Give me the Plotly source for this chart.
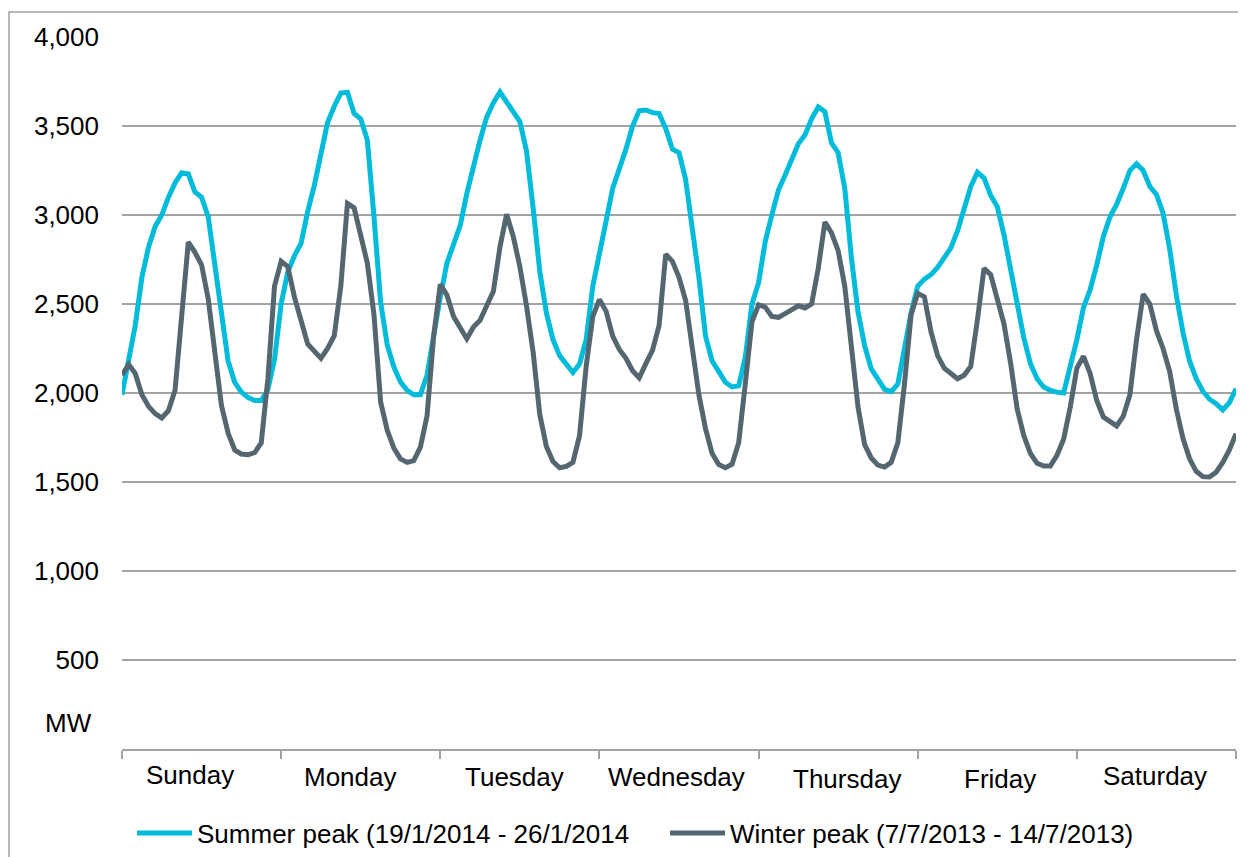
import plotly.graph_objects as go

# Hourly demand (MW), Sunday 00:00 -> next Sunday 00:00
hours = list(range(169))

summer = [
    # Sunday
    1990, 2180, 2380, 2650, 2820, 2935, 3000, 3100, 3180, 3237, 3230, 3129,
    3100, 2990, 2720, 2400, 2180, 2060, 2005, 1975, 1958, 1958, 2020, 2190,
    # Monday
    2500, 2680, 2770, 2840, 3020, 3165, 3340, 3520, 3610, 3685, 3690, 3570,
    3540, 3420, 2990, 2510, 2270, 2146, 2062, 2015, 1990, 1990, 2100, 2340,
    # Tuesday
    2540, 2730, 2830, 2940, 3120, 3280, 3420, 3550, 3630, 3691, 3640, 3580,
    3525, 3360, 3040, 2685, 2450, 2300, 2210, 2160, 2115, 2163, 2300, 2600,
    # Wednesday
    2800, 2965, 3150, 3255, 3370, 3500, 3585, 3590, 3575, 3570, 3485, 3370,
    3350, 3200, 2925, 2650, 2320, 2180, 2120, 2060, 2034, 2040, 2200, 2500,
    # Thursday
    2620, 2850, 3000, 3140, 3223, 3310, 3400, 3450, 3540, 3607, 3580, 3405,
    3350, 3150, 2760, 2455, 2265, 2135, 2075, 2020, 2008, 2050, 2250, 2450,
    # Friday
    2600, 2640, 2665, 2705, 2760, 2815, 2910, 3030, 3160, 3240, 3208, 3110,
    3047, 2890, 2700, 2480, 2310, 2165, 2080, 2034, 2015, 2005, 2000, 2150,
    # Saturday
    2300, 2480, 2580, 2720, 2880, 2990, 3060, 3150, 3250, 3288, 3250, 3160,
    3115, 3010, 2810, 2550, 2340, 2180, 2080, 2010, 1965, 1940, 1905, 1945,
    2024,
]

winter = [
    # Sunday
    2100, 2160, 2110, 1990, 1925, 1884, 1860, 1900, 2015, 2420, 2848, 2790,
    2720, 2530, 2210, 1930, 1775, 1680, 1657, 1653, 1665, 1720, 2080, 2600,
    # Monday
    2740, 2710, 2540, 2400, 2275, 2235, 2195, 2250, 2320, 2600, 3065, 3040,
    2890, 2730, 2440, 1950, 1790, 1690, 1630, 1610, 1620, 1696, 1870, 2320,
    # Tuesday
    2610, 2550, 2430, 2370, 2305, 2371, 2408, 2490, 2570, 2820, 3004, 2880,
    2710, 2490, 2230, 1880, 1700, 1615, 1580, 1588, 1610, 1760, 2150, 2430,
    # Wednesday
    2525, 2460, 2320, 2245, 2195, 2125, 2085, 2165, 2240, 2380, 2780, 2740,
    2650, 2520, 2260, 1990, 1800, 1660, 1598, 1580, 1600, 1720, 2052, 2400,
    # Thursday
    2495, 2483, 2430, 2425, 2446, 2470, 2490, 2478, 2500, 2700, 2960, 2900,
    2800, 2600, 2230, 1920, 1710, 1635, 1595, 1584, 1610, 1720, 2050, 2440,
    # Friday
    2560, 2540, 2345, 2210, 2140, 2110, 2080, 2100, 2150, 2410, 2700, 2665,
    2530, 2390, 2170, 1910, 1760, 1660, 1605, 1590, 1590, 1650, 1740, 1920,
    # Saturday
    2140, 2206, 2110, 1958, 1865, 1838, 1815, 1870, 1990, 2300, 2555, 2500,
    2350, 2250, 2120, 1910, 1745, 1630, 1560, 1530, 1528, 1555, 1610, 1680,
    1771,
]

days = ["Sunday", "Monday", "Tuesday", "Wednesday", "Thursday", "Friday", "Saturday"]
day_ticks = [0, 24, 48, 72, 96, 120, 144, 168]
y_ticks = [500, 1000, 1500, 2000, 2500, 3000, 3500, 4000]
y_ticktext = ["500", "1,000", "1,500", "2,000", "2,500", "3,000", "3,500", "4,000"]

series_names = ["Summer peak (19/1/2014 - 26/1/2014", "Winter peak (7/7/2013 - 14/7/2013)"]

CYAN = "#00BBD9"
DARK = "#546670"
GRID = "#A3A3A3"
FONT = "Liberation Sans, Arial, sans-serif"

fig = go.Figure()
fig.add_trace(go.Scatter(x=hours, y=summer, mode="lines", name=series_names[0],
                         line=dict(color=CYAN, width=5)))
fig.add_trace(go.Scatter(x=hours, y=winter, mode="lines", name=series_names[1],
                         line=dict(color=DARK, width=5)))

# day labels (slight per-label offsets as in the original)
label_dx = [-12, -10, -5, -3, 9, 3, -1]
label_dy = [2, 0, 0, 0, -2, -2, 1]
for i, d in enumerate(days):
    fig.add_annotation(x=12 + 24 * i, y=-0.0393, xref="x", yref="paper",
                       text=d, showarrow=False, xanchor="center", yanchor="middle",
                       xshift=label_dx[i], yshift=label_dy[i],
                       font=dict(size=26, color="#000000", family=FONT))

fig.add_annotation(x=-0.0476, y=0.0365, xref="paper", yref="paper", text="MW",
                   showarrow=False, xanchor="center", yanchor="middle",
                   font=dict(size=26, color="#000000", family=FONT))

# outer frame
fig.add_shape(type="rect", xref="paper", yref="paper",
              x0=-0.1014, x1=1.2, y0=-0.3, y1=1.0351,
              line=dict(color="#A0A0A0", width=1.5), fillcolor="rgba(0,0,0,0)", layer="below")

fig.update_layout(
    width=1238, height=849,
    margin=dict(l=114, r=10, t=29, b=108, pad=0, autoexpand=False),
    paper_bgcolor="white", plot_bgcolor="white",
    font=dict(family=FONT, size=26, color="#000000"),
    showlegend=True,
    legend=dict(orientation="h", x=0.009, xanchor="left", y=-0.118, yanchor="middle",
                font=dict(size=26, family=FONT, color="#000000"),
                itemwidth=55,
                entrywidth=463, entrywidthmode="pixels",
                bgcolor="rgba(0,0,0,0)", borderwidth=0),
    xaxis=dict(range=[0, 168], tickvals=day_ticks, showticklabels=False,
               ticks="outside", ticklen=8, tickwidth=1.5, tickcolor=GRID,
               showline=True, linecolor=GRID, linewidth=2,
               showgrid=False, zeroline=False, fixedrange=True),
    yaxis=dict(range=[0, 4000], tickvals=y_ticks, ticktext=y_ticktext,
               showgrid=True, gridcolor=GRID, gridwidth=2,
               zeroline=False, showline=False, ticks="",
               ticklabelstandoff=22,
               tickfont=dict(size=26, family=FONT, color="#000000"), fixedrange=True),
)

fig.write_html("out.html")
